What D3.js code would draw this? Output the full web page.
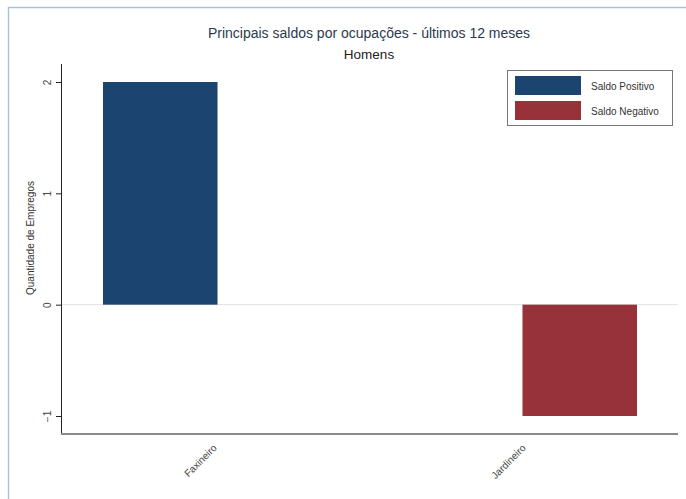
<!DOCTYPE html>
<html><head><meta charset="utf-8">
<script src="https://cdn.jsdelivr.net/npm/d3@7"></script>
<style>body{margin:0;background:#fff}svg{display:block;font-family:"Liberation Sans",Arial,sans-serif}</style>
</head><body><svg id="c" width="686" height="499"></svg>
<script>
const categories = ["Faxineiro", "Jardineiro"];
const values = [2, -1];
const seriesNames = ["Saldo Positivo", "Saldo Negativo"];
const yTicks = [-1, 0, 1, 2];
const title = "Principais saldos por ocupações - últimos 12 meses";
const subtitle = "Homens";
const yLabel = "Quantidade de Empregos";

const colors = {"Saldo Positivo": "#1b4570", "Saldo Negativo": "#98323a"};
const svg = d3.select("#c");

// outer frame
svg.append("path").attr("d", "M8.5,499 V7.5 H686").attr("fill", "none").attr("stroke", "#a9c2da").attr("stroke-width", 1.5);

const y = d3.scaleLinear().domain([-1, 2]).range([416, 82]);
const x = d3.scaleBand().domain(categories).range([103, 637]).paddingInner(0.727).paddingOuter(0);
const xl = d3.scalePoint().domain(categories).range([215, 524]);
const pLeft = 61, pRight = 678, pBottom = 434, pTop = 64;

// zero gridline
svg.append("line").attr("x1", pLeft).attr("x2", pRight).attr("y1", y(0)).attr("y2", y(0)).attr("stroke", "#e2e2e2").attr("stroke-width", 1);

// bars
svg.selectAll("rect.bar").data(categories).join("rect").attr("class", "bar")
  .attr("x", d => x(d)).attr("width", x.bandwidth())
  .attr("y", (d, i) => y(Math.max(0, values[i])))
  .attr("height", (d, i) => Math.abs(y(values[i]) - y(0)))
  .attr("fill", (d, i) => values[i] >= 0 ? colors["Saldo Positivo"] : colors["Saldo Negativo"]);

// y axis
const ya = svg.append("g").attr("transform", `translate(${pLeft},0)`)
  .call(d3.axisLeft(y).tickValues(yTicks).tickFormat(d3.format("d")).tickSize(5).tickSizeOuter(0));
ya.select(".domain").attr("d", `M0.5,${pTop}V${pBottom}`).attr("stroke", "#222");
ya.selectAll(".tick line").attr("stroke", "#222").attr("x1", 0.5).attr("x2", -5);
ya.selectAll(".tick text").attr("font-size", 10).attr("fill", "#444")
  .attr("transform", "rotate(-90,-14,0)")
  .attr("x", -14).attr("dy", "0.35em").attr("text-anchor", "middle");

// x axis line
svg.append("line").attr("x1", pLeft).attr("x2", pRight).attr("y1", pBottom).attr("y2", pBottom).attr("stroke", "#8a8a8a").attr("stroke-width", 2);

// x labels
svg.selectAll("text.xl").data(categories).join("text").attr("class", "xl")
  .attr("transform", d => `translate(${xl(d)},${pBottom + 12}) rotate(-45)`)
  .attr("text-anchor", "end").attr("dy", "0.35em").attr("font-size", 10).attr("fill", "#444").text(d => d);

// y label
svg.append("text").attr("transform", `translate(34,238) rotate(-90)`)
  .attr("text-anchor", "middle").attr("font-size", 10).attr("fill", "#333").text(yLabel);

// titles
svg.append("text").attr("x", 369).attr("y", 38).attr("text-anchor", "middle").attr("font-size", 14).attr("fill", "#2a3a50").text(title);
svg.append("text").attr("x", 369).attr("y", 59).attr("text-anchor", "middle").attr("font-size", 13.5).attr("fill", "#222").text(subtitle);

// legend
const lg = svg.append("g");
lg.append("rect").attr("x", 507.5).attr("y", 70.5).attr("width", 165).attr("height", 55).attr("fill", "#fff").attr("stroke", "#777");
seriesNames.forEach((s, i) => {
  lg.append("rect").attr("x", 515).attr("y", 76 + i * 25).attr("width", 66).attr("height", 19).attr("fill", colors[s]);
  lg.append("text").attr("x", 591).attr("y", 86 + i * 25).attr("dy", "0.35em").attr("font-size", 10).attr("fill", "#333").text(s);
});
</script></body></html>
